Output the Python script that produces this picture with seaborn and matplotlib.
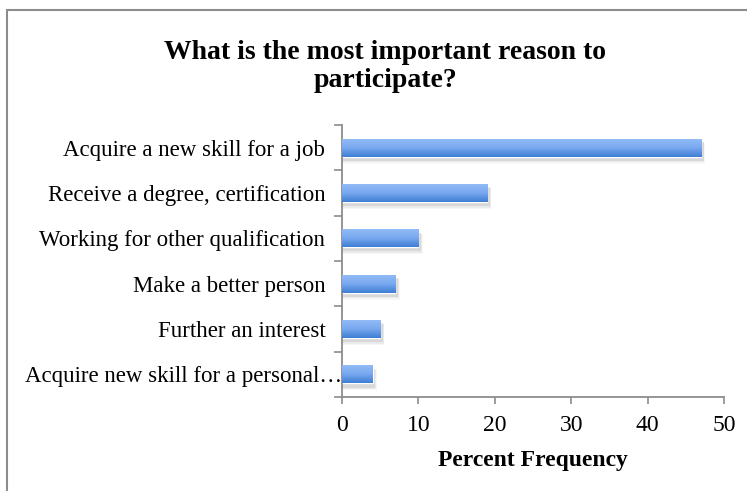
import matplotlib
matplotlib.use("Agg")
import matplotlib.pyplot as plt
import matplotlib.patches as mpatches
import matplotlib.transforms as mtransforms
from matplotlib.lines import Line2D
from matplotlib.colors import LinearSegmentedColormap
import numpy as np
import pandas as pd
import seaborn as sns

# Survey responses
reasons = [
    "Acquire a new skill for a job",
    "Receive a degree, certification",
    "Working for other qualification",
    "Make a better person",
    "Further an interest",
    "Acquire new skill for a personal\u2026",
]
percent = [47, 19, 10, 7, 5, 4]
x_ticks = [0, 10, 20, 30, 40, 50]

df = pd.DataFrame({"reason": reasons, "percent": percent})

sns.set_theme(style="white")
plt.rcParams["font.family"] = ["Liberation Serif", "DejaVu Serif"]
plt.rcParams["text.color"] = "black"
plt.rcParams["axes.labelcolor"] = "black"
plt.rcParams["xtick.labelcolor"] = "black"
plt.rcParams["ytick.labelcolor"] = "black"

fig = plt.figure(figsize=(7.47, 4.91), dpi=100)
ax = fig.add_axes([0.4578, 0.1914, 0.5114, 0.554])

sns.barplot(data=df, x="percent", y="reason", orient="h", color="#5b93e3",
            width=0.4, ax=ax, saturation=1)

# shaded bars: light top edge fading to deeper blue underneath, with a soft drop shadow
grad = LinearSegmentedColormap.from_list("bar", ["#94bdf7", "#7aa9f0", "#3f7fd4"])
img = np.linspace(0, 1, 64).reshape(-1, 1)
for p in list(ax.patches):
    x0, y0 = p.get_x(), p.get_y()
    w, h = p.get_width(), p.get_height()
    for k, a in enumerate([0.08, 0.05, 0.03]):
        d = 0.03 * (k + 1)
        sh = mpatches.Rectangle((x0, y0 + 0.06 + d * 0.4), w + 0.2 + d * 4, h + d * 0.6,
                                facecolor="#000000", edgecolor="none", alpha=a, zorder=1)
        ax.add_patch(sh)
    p.set_zorder(2)
    im = ax.imshow(img, cmap=grad, aspect="auto", extent=(x0, x0 + w, y0 + h, y0),
                   zorder=3, interpolation="bicubic")
    im.set_clip_path(p)

ax.set_xlim(0, 50)
ax.set_ylim(5.5, -0.5)
ax.set_xticks(x_ticks)
ax.set_xticklabels([str(t) for t in x_ticks], fontsize=17)
ax.set_yticks(range(len(reasons)))
ax.set_yticklabels(reasons, fontsize=16.5)
ax.tick_params(axis="y", which="major", length=0, pad=12)
ax.set_yticks(np.arange(-0.5, len(reasons), 1.0), minor=True)
ax.tick_params(axis="y", which="minor", length=6, width=1.2, color="#8c8c8c", left=True)
ax.tick_params(axis="x", which="major", length=5, width=1.2, color="#8c8c8c",
               bottom=True, pad=8)
for s in ["top", "right"]:
    ax.spines[s].set_visible(False)
for s in ["left", "bottom"]:
    ax.spines[s].set_color("#8c8c8c")
    ax.spines[s].set_linewidth(1.3)
ax.set_xlabel("Percent Frequency", fontsize=17, fontweight="bold", labelpad=10)
ax.set_ylabel("")
ax.grid(False)

# the truncated label runs past the others, up to the axis line
last = ax.get_yticklabels()[-1]
last.set_transform(last.get_transform()
                   + mtransforms.ScaledTranslation(17 / 100, 0, fig.dpi_scale_trans))

fig.text(0.516, 0.918, "What is the most important reason to\nparticipate?",
         ha="center", va="top", fontsize=20, fontweight="bold", linespacing=1.15)

# chart area frame (top and left edges)
fig.add_artist(Line2D([7 / 747, 1], [1 - 9.5 / 491, 1 - 9.5 / 491],
                      transform=fig.transFigure, color="#8c8c8c", lw=1.5))
fig.add_artist(Line2D([7 / 747, 7 / 747], [0, 1 - 9.5 / 491],
                      transform=fig.transFigure, color="#8c8c8c", lw=1.5))

fig.savefig("out.png", dpi=100)
